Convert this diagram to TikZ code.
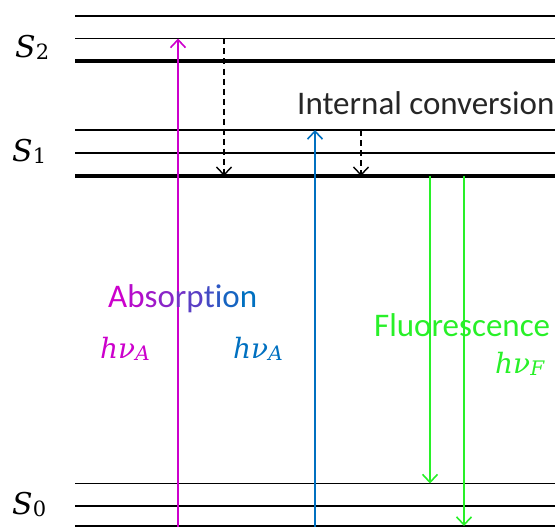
\documentclass[tikz,border=0pt]{standalone}
\usepackage{fontspec}
\setmainfont{Carlito}
\newfontfamily\mfont{DejaVu Serif}
\usetikzlibrary{arrows.meta}
\definecolor{absM}{RGB}{204,0,204}
\definecolor{absB}{RGB}{0,112,192}
\definecolor{fluoG}{RGB}{40,240,40}
\newcommand{\symlbl}[4]{{\fontsize{#3}{#3}\mfont\itshape #1}\raisebox{-0.22em}{\fontsize{#4}{#4}\mfont#2}}
\newcommand{\symlbli}[4]{{\fontsize{#3}{#3}\mfont\itshape #1}\raisebox{-0.22em}{\fontsize{#4}{#4}\mfont\itshape#2}}
\begin{document}
\begin{tikzpicture}[x=1pt,y=-1pt,
  thinlvl/.style={line width=1.3pt,black},
  thicklvl/.style={line width=4.5pt,black},
  trans/.style={line width=1.6pt,-{Straight Barb[length=8pt,width=15pt,line width=1.6pt]}},
  icarrow/.style={line width=1.4pt,dash pattern=on 6pt off 4pt,-{Straight Barb[length=8pt,width=15pt,line width=1.4pt]}},
  lbl/.style={inner sep=0pt,font=\fontsize{33}{38}\selectfont},
  slbl/.style={inner sep=0pt,anchor=base west},
  mlbl/.style={inner sep=0pt,anchor=base west}]
\useasboundingbox (0,0) rectangle (559,527);
% energy levels
\foreach \y in {16,38.5} \draw[thinlvl] (75,\y) -- (555,\y);
\draw[thicklvl] (75,61) -- (555,61);
\foreach \y in {130,153} \draw[thinlvl] (75,\y) -- (555,\y);
\draw[thicklvl] (75,176) -- (555,176);
\foreach \y in {483.5,506,526} \draw[thinlvl] (75,\y) -- (555,\y);
% coordinates for transitions
\coordinate (a0) at (178,527);
\coordinate (a1) at (178,38.5);
\coordinate (ic1s) at (224,38.5);
\coordinate (ic1e) at (224,176);
\coordinate (b0) at (315,527);
\coordinate (b1) at (315,130);
\coordinate (ic2s) at (361,130);
\coordinate (ic2e) at (361,176);
\coordinate (f1s) at (430,176);
\coordinate (f1e) at (430,483.5);
\coordinate (f2s) at (464,176);
\coordinate (f2e) at (464,526);
% transitions
\draw[trans,absM] (a0) -- (a1);
\draw[trans,absB] (b0) -- (b1);
\draw[icarrow] (ic1s) -- (ic1e);
\draw[icarrow] (ic2s) -- (ic2e);
\draw[trans,fluoG] (f1s) -- (f1e);
\draw[trans,fluoG] (f2s) -- (f2e);
% labels
\node[slbl] (s2) at (15,57) {\symlbl{S}{2}{30}{21}};
\node[slbl] (s1) at (12,161) {\symlbl{S}{1}{30}{21}};
\node[slbl] (s0) at (12,514) {\symlbl{S}{0}{30}{21}};
\node[lbl,anchor=base west,text=black!85] (ic) at (297,114) {Internal conversion};
\node[lbl,anchor=base west] (abs) at (108,307) {\textcolor{absM}{A}\textcolor{absB!11!absM}{b}\textcolor{absB!22!absM}{s}\textcolor{absB!33!absM}{o}\textcolor{absB!44!absM}{r}\textcolor{absB!56!absM}{p}\textcolor{absB!67!absM}{t}\textcolor{absB!78!absM}{i}\textcolor{absB!89!absM}{o}\textcolor{absB}{n}};
\node[mlbl,text=absM] (hva) at (100,358) {\symlbli{hν}{A}{28}{20}};
\node[mlbl,text=absB] (hvb) at (233,358) {\symlbli{hν}{A}{28}{20}};
\node[lbl,anchor=base west,text=fluoG] (fl) at (374,336) {Fluorescence};
\node[mlbl,text=fluoG] (hvf) at (495,373) {\symlbli{hν}{F}{28}{20}};
\end{tikzpicture}
\end{document}
